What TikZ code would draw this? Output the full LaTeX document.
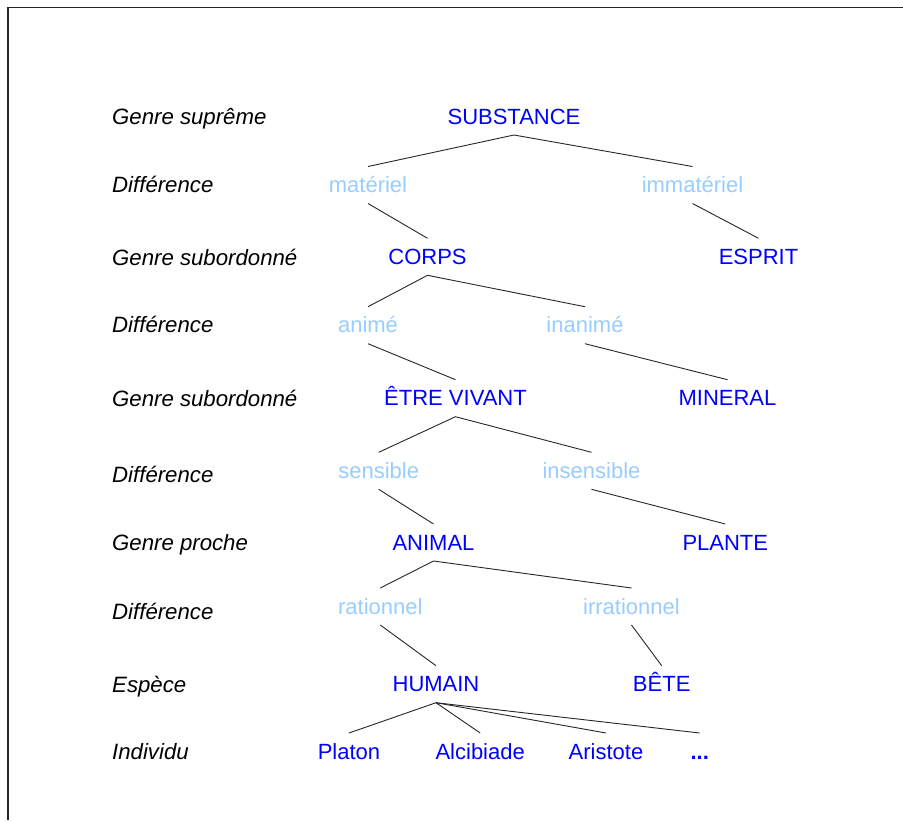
\documentclass[tikz,border=0pt]{standalone}
\usepackage{fontspec}
\setmainfont{Liberation Sans}
\definecolor{termblue}{RGB}{0,0,255}
\definecolor{diffblue}{RGB}{153,204,255}
\begin{document}
\begin{tikzpicture}[x=1pt,y=-1pt,
  treetext/.style={inner sep=0pt, text height=25.8pt, text depth=10.8pt,
    anchor=base, font=\fontsize{22}{26}\selectfont},
  term/.style={treetext, text=termblue},
  diff/.style={treetext, text=diffblue},
  level/.style={inner sep=0pt, anchor=base west,
    font=\fontsize{22.2}{26}\selectfont\itshape},
  branch/.style={draw=black!85, line width=0.9pt}]
\useasboundingbox (0,0) rectangle (903,820);
% frame edges
\draw[black!85, line width=1.3pt] (8,820) -- (8,7.5) -- (903,7.5);

% level captions
\node[level] (l1)  at (112,124)   {Genre suprême};
\node[level] (l2)  at (112,192)   {Différence};
\node[level] (l3)  at (112,265)   {Genre subordonné};
\node[level] (l4)  at (112,332)   {Différence};
\node[level] (l5)  at (112,406.5) {Genre subordonné};
\node[level] (l6)  at (112,482.5) {Différence};
\node[level] (l7)  at (112,550.5) {Genre proche};
\node[level] (l8)  at (112,619)   {Différence};
\node[level] (l9)  at (112,692)   {Espèce};
\node[level] (l10) at (112,759)   {Individu};

% the tree
\node[term] (substance) at (514,124)   {SUBSTANCE};
\node[diff] (materiel)  at (368,192.5) {matériel};
\node[diff] (immat)     at (692.5,192.5) {immatériel};
\node[term] (corps)     at (427.5,264.3) {CORPS};
\node[term] (esprit)    at (758.5,264.3) {ESPRIT};
\node[diff] (anime)     at (368,332.7) {animé};
\node[diff] (inanime)   at (585,332.7) {inanimé};
\node[term] (vivant)    at (455.5,405.7) {ÊTRE VIVANT};
\node[term] (mineral)   at (727.5,405.7) {MINERAL};
\node[diff] (sensible)  at (378.7,478.3) {sensible};
\node[diff] (insens)    at (591.5,478.3) {insensible};
\node[term] (animal)    at (433.5,550)   {ANIMAL};
\node[term] (plante)    at (725.3,550)   {PLANTE};
\node[diff] (rationnel) at (380.3,614)   {rationnel};
\node[diff] (irrat)     at (631.5,614)   {irrationnel};
\node[term] (humain)    at (436,691.7)   {HUMAIN};
\node[term] (bete)      at (661.7,691.7) {BÊTE};
\node[term] (platon)    at (349,759)     {Platon};
\node[term] (alcibiade) at (480.2,759)   {Alcibiade};
\node[term] (aristote)  at (606,759)     {Aristote};
\node[term,font=\fontsize{22}{26}\selectfont\bfseries] (etc) at (699.7,759) {...};

\draw[branch] (materiel.north) -- (substance.south) -- (immat.north);
\draw[branch] (materiel.south) -- (corps.north);
\draw[branch] (immat.south) -- (esprit.north);
\draw[branch] (anime.north) -- (corps.south) -- (inanime.north);
\draw[branch] (anime.south) -- (vivant.north);
\draw[branch] (inanime.south) -- (mineral.north);
\draw[branch] (sensible.north) -- (vivant.south) -- (insens.north);
\draw[branch] (sensible.south) -- (animal.north);
\draw[branch] (insens.south) -- (plante.north);
\draw[branch] (rationnel.north) -- (animal.south) -- (irrat.north);
\draw[branch] (rationnel.south) -- (humain.north);
\draw[branch] (irrat.south) -- (bete.north);
\draw[branch] (humain.south) -- (platon.north);
\draw[branch] (humain.south) -- (alcibiade.north);
\draw[branch] (humain.south) -- (aristote.north);
\draw[branch] (humain.south) -- (etc.north);
\end{tikzpicture}
\end{document}
